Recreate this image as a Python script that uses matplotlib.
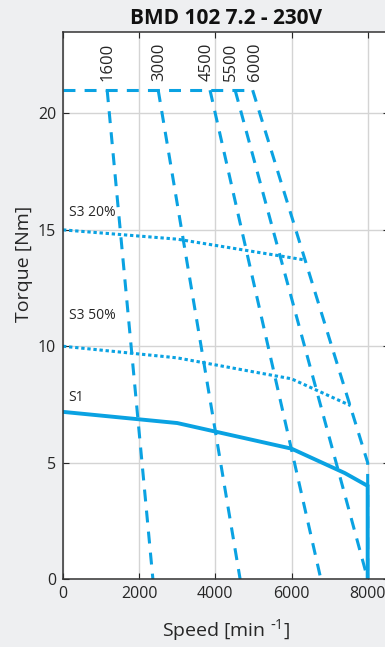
import matplotlib
matplotlib.use("Agg")
import matplotlib.pyplot as plt

plt.rcParams['font.family'] = ['Open Sans', 'DejaVu Sans']
plt.rcParams['mathtext.default'] = 'regular'
plt.rcParams['lines.scale_dashes'] = False

# S1 / S3 torque limits
s1_x = [0, 3000, 6000, 7400, 8000, 8000]
s1_y = [7.18, 6.7, 5.6, 4.55, 4.0, 0]
s3_50_x = [0, 3000, 6000, 7550]
s3_50_y = [10.0, 9.5, 8.6, 7.45]
s3_20_x = [0, 3000, 6000, 6370]
s3_20_y = [15.0, 14.6, 13.8, 13.7]

# voltage limit lines (speed labels)
max_torque = 21
speed_labels = ["1600", "3000", "4500", "5500", "6000"]
vl_x = [[1160, 2360],
        [2500, 4650],
        [3860, 6770],
        [4520, 8000],
        [4980, 8000, 8000]]
vl_y = [[21, 0],
        [21, 0],
        [21, 0],
        [21, 0],
        [21, 5.0, 0]]

blue = '#0aa2e2'
txt = '#262626'
bg = '#eeeff1'
dash = (8.6, 6.6)
dot = (2.4, 2.0)

fig = plt.figure(figsize=(3.85, 6.47), dpi=100, facecolor=bg)
ax = fig.add_axes([63/385, 1-579/647, 326/385, 547/647])
ax.set_facecolor('white')

ax.plot([0, max(x[0] for x in vl_x)], [max_torque, max_torque], color=blue, lw=2.2, dashes=dash)
for xs, ys in zip(vl_x, vl_y):
    ax.plot(xs, ys, color=blue, lw=2.2, dashes=dash)
ax.plot(s3_20_x, s3_20_y, color=blue, lw=2.2, dashes=dot)
ax.plot(s3_50_x, s3_50_y, color=blue, lw=2.2, dashes=dot)
ax.plot(s1_x, s1_y, color=blue, lw=2.8, solid_joinstyle='miter')

nudge = [20, 20, -100, -110, 60]
for lab, xs, dx in zip(speed_labels, vl_x, nudge):
    ax.text(xs[0] + dx, 21.4, lab, rotation=90, ha='center', va='bottom', fontsize=12, color=txt)

ax.text(150, 15.75, "S3 20%", fontsize=10, color=txt, va='center')
ax.text(150, 11.33, "S3 50%", fontsize=10, color=txt, va='center')
ax.text(150, 7.81, "S1", fontsize=10, color=txt, va='center')

ax.set_xlim(0, 8560)
ax.set_ylim(0, 23.5)
ax.set_xticks([0, 2000, 4000, 6000, 8000])
ax.set_yticks([0, 5, 10, 15, 20])
ax.grid(True, color='#d4d4d4', lw=1)
ax.set_axisbelow(True)
ax.tick_params(direction='in', length=4, top=True, right=True, labelsize=11.5, colors=txt, pad=5)
for s in ax.spines.values():
    s.set_color('#333333')
    s.set_linewidth(1.1)

ax.set_xlabel(r"Speed [min $^{\text{-}1}$]", fontsize=14, color=txt, labelpad=11)
ax.set_ylabel("Torque [Nm]", fontsize=14, color=txt)
ax.yaxis.set_label_coords(-0.092, 0.577)
ax.set_title("BMD 102 7.2 - 230V", fontsize=15, fontweight='bold', color='#111111', pad=6)

fig.savefig("out.png", dpi=100, facecolor=bg)
